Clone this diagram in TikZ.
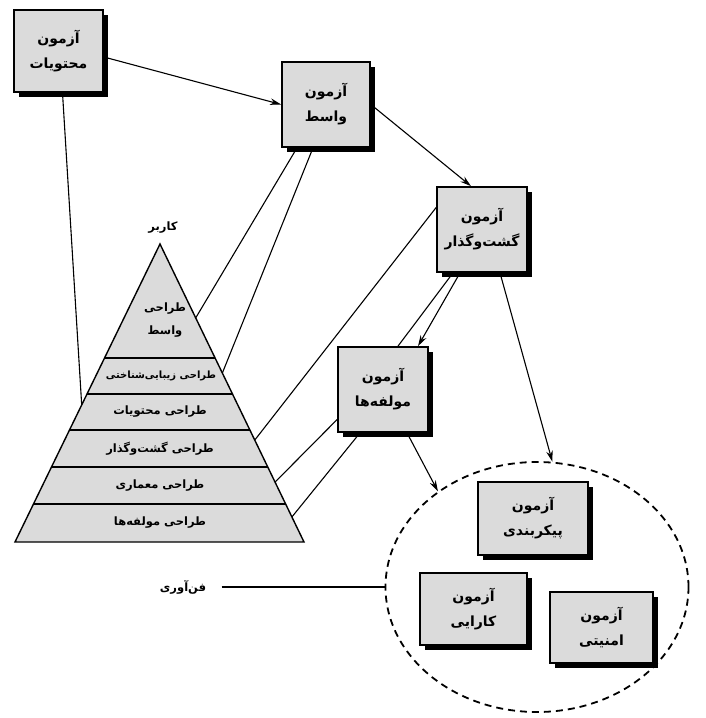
\documentclass[tikz,border=0pt]{standalone}
\usepackage{fontspec}
\newfontfamily\farsi[Script=Arabic]{DejaVu Sans}
\TeXXeTstate=1
\usetikzlibrary{calc,shapes.geometric,shadows,arrows.meta}
\newcommand{\fa}[1]{\beginR #1\endR}

\begin{document}
\begin{tikzpicture}[
	x=1pt, y=-1pt,
	testbox/.style={draw, line width=1.7pt, fill=black!14, inner sep=0pt, align=center,
		font=\farsi\bfseries\fontsize{14}{25}\selectfont,
		drop shadow={shadow xshift=5pt, shadow yshift=-5pt, fill=black, opacity=1}},
	layer/.style={font=\farsi\bfseries\fontsize{11.5}{23}\selectfont, align=center},
	link/.style={line width=1.1pt},
	arrowlink/.style={link, -{Stealth[length=11pt, width=6.5pt]}},
	]
	\useasboundingbox (0,0) rectangle (705,718);

	%technology
	\node[draw, ellipse, line width=1.8pt, dash pattern=on 7pt off 5pt, minimum width=303, minimum height=250, inner sep=0pt] (ell) at (537,587) {};

	%boxes
	\node[testbox, minimum width=89, minimum height=82] (b1) at (58.5,51) {\fa{آزمون}\\\fa{محتویات}};
	\node[testbox, minimum width=88, minimum height=85] (b2) at (326,104.5) {\fa{آزمون}\\\fa{واسط}};
	\node[testbox, minimum width=90, minimum height=85] (b3) at (482,229.5) {\fa{آزمون}\\\fa{گشت‌وگذار}};
	\node[testbox, minimum width=90, minimum height=85] (b4) at (383,389.5) {\fa{آزمون}\\\fa{مولفه‌ها}};
	\node[testbox, minimum width=110, minimum height=73] (b5) at (533,518.5) {\fa{آزمون}\\\fa{پیکربندی}};
	\node[testbox, minimum width=107, minimum height=72] (b6) at (473.5,609) {\fa{آزمون}\\\fa{کارایی}};
	\node[testbox, minimum width=103, minimum height=71] (b7) at (601.5,627.5) {\fa{آزمون}\\\fa{امنیتی}};

	%pyramid
	\coordinate (apex) at (160,244);
	\coordinate (bl) at (15,542);
	\coordinate (br) at (304,542);
	\draw[line width=1.4pt, fill=black!14] (apex) -- (bl) -- (br) -- cycle;
	\foreach \t in {0.383,0.503,0.624,0.748,0.872}
		\draw[line width=1.4pt] ($(apex)!\t!(bl)$) -- ($(apex)!\t!(br)$);

	\node[layer] (user) at (163,228) {\fa{کاربر}};
	\node[layer] (lay1) at (165,320) {\fa{طراحی}\\\fa{واسط}};
	\node[layer, font=\farsi\bfseries\fontsize{10}{20}\selectfont] (lay2) at (161,376) {\fa{طراحی زیبایی‌شناختی}};
	\node[layer] (lay3) at (160,412) {\fa{طراحی محتویات}};
	\node[layer] (lay4) at (160,448.5) {\fa{طراحی گشت‌وگذار}};
	\node[layer] (lay5) at (160,485.5) {\fa{طراحی معماری}};
	\node[layer] (lay6) at (160,523) {\fa{طراحی مولفه‌ها}};
	\node[layer] (tech) at (183,587) {\fa{فن‌آوری}};

	%edge points
	\coordinate (l1) at ($(apex)!0.54!(bl)$);
	\coordinate (r1) at ($(apex)!0.248!(br)$);
	\coordinate (r2) at ($(apex)!0.433!(br)$);
	\coordinate (r3) at ($(apex)!0.658!(br)$);
	\coordinate (r4) at ($(apex)!0.799!(br)$);
	\coordinate (r5) at ($(apex)!0.916!(br)$);

	%links
	\draw[arrowlink] ([yshift=-6pt]b1.east) -- (b2.west);
	\draw[arrowlink] (b2.east) -- ([xshift=-11pt]b3.north);
	\draw[link] ([xshift=4pt]b1.south) -- (l1);
	\draw[link] ([xshift=-29pt]b2.south) -- (r1);
	\draw[link] ([xshift=-13pt]b2.south) -- (r2);
	\draw[link] ([yshift=22pt]b3.west) -- (r3);
	\draw[link] ([xshift=-29pt]b3.south) -- ([xshift=15pt]b4.north);
	\draw[arrowlink] ([xshift=-22pt]b3.south) -- ([xshift=35pt]b4.north);
	\draw[arrowlink] ([xshift=18pt]b3.south) -- (ell.83);
	\draw[arrowlink] ([xshift=24pt]b4.south) -- (ell.136);
	\draw[link] ([yshift=-30pt]b4.west) -- (r4);
	\draw[link] ([xshift=-23pt]b4.south) -- (r5);
	\draw[link] ([xshift=12pt]tech.east) -- (ell.west);
\end{tikzpicture}
\end{document}
